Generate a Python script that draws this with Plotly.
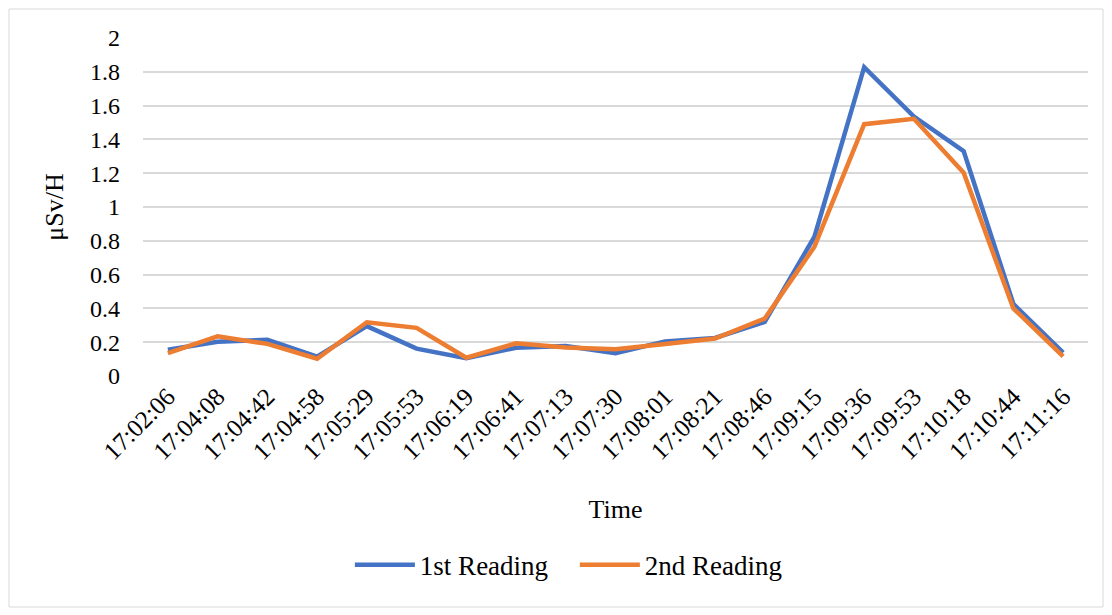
import plotly.graph_objects as go

times = ["17:02:06", "17:04:08", "17:04:42", "17:04:58", "17:05:29", "17:05:53",
         "17:06:19", "17:06:41", "17:07:13", "17:07:30", "17:08:01", "17:08:21",
         "17:08:46", "17:09:15", "17:09:36", "17:09:53", "17:10:18", "17:10:44",
         "17:11:16"]
reading_1 = [0.155, 0.203, 0.215, 0.115, 0.295, 0.162, 0.105, 0.167, 0.178, 0.135,
             0.205, 0.225, 0.32, 0.824, 1.827, 1.535, 1.331, 0.426, 0.138]
reading_2 = [0.135, 0.235, 0.19, 0.102, 0.318, 0.285, 0.108, 0.193, 0.168, 0.158,
             0.19, 0.222, 0.34, 0.765, 1.49, 1.522, 1.203, 0.40, 0.116]

W, H = 1112, 615
L, R, T, B = 143, 24, 38, 239
FONT = "Liberation Serif, Times New Roman, serif"

fig = go.Figure()
fig.add_trace(go.Scatter(x=times, y=reading_1, mode="lines", name="1st Reading",
                         line=dict(color="#4472C4", width=4.5)))
fig.add_trace(go.Scatter(x=times, y=reading_2, mode="lines", name="2nd Reading",
                         line=dict(color="#ED7D31", width=4.5)))

pw, ph = W - L - R, H - T - B
# outer chart frame
fig.add_shape(type="rect", xref="paper", yref="paper", layer="below",
              x0=(9 - L) / pw, x1=(1103 - L) / pw,
              y0=(H - B - 607) / ph, y1=(H - B - 9) / ph,
              line=dict(color="#D9D9D9", width=1), fillcolor="rgba(0,0,0,0)")

fig.update_layout(
    width=W, height=H,
    margin=dict(l=L, r=R, t=T, b=B),
    paper_bgcolor="white", plot_bgcolor="white",
    font=dict(family=FONT, size=25, color="black"),
    xaxis=dict(type="category", tickangle=-45, showgrid=False, zeroline=False,
               showline=False, ticks="", tickfont=dict(size=25),
               title=dict(text="Time", font=dict(size=26), standoff=36),
               range=[-0.5, len(times) - 0.5]),
    yaxis=dict(range=[0, 2], dtick=0.2, tickformat="~g", showgrid=True,
               gridcolor="#D9D9D9", gridwidth=1.5, zeroline=False, showline=False,
               ticks="", tickfont=dict(size=24), ticklabelstandoff=22,
               title=dict(text="μSv/H", font=dict(size=26), standoff=18)),
    legend=dict(orientation="h", x=0.457, xanchor="center", y=-0.56, yanchor="middle",
                font=dict(size=27), itemwidth=60, entrywidth=150,
                entrywidthmode="pixels", bgcolor="rgba(0,0,0,0)"),
    showlegend=True,
)

fig.write_html("out.html")
